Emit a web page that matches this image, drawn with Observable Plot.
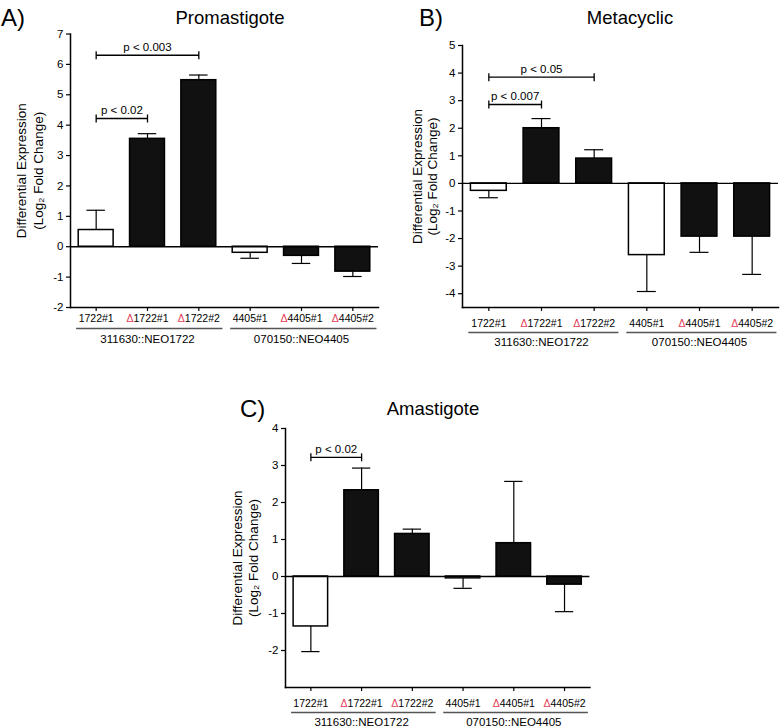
<!DOCTYPE html>
<html><head><meta charset="utf-8">
<script src="https://cdn.jsdelivr.net/npm/d3@7"></script>
<script src="https://cdn.jsdelivr.net/npm/@observablehq/plot@0.6"></script>
<style>
body{margin:0;background:#fff;}
#wrap{position:relative;width:780px;height:728px;font-family:"Liberation Sans",Arial,sans-serif;color:#000;}
.panel{position:absolute;}
.ttl{position:absolute;font-size:18.5px;transform:translate(-50%,-50%);white-space:nowrap;}
.let{position:absolute;font-size:24px;transform:translate(0,-50%);white-space:nowrap;}
</style></head><body><div id="wrap"></div>
<script>
// ---- data ----
const categories = ["1722#1","Δ1722#1","Δ1722#2","4405#1","Δ4405#1","Δ4405#2"];
const knockout = [false,true,true,false,true,true];
const groupNames = ["311630::NEO1722","070150::NEO4405"];
const groupFirst = [0,3];
const groupLast = [2,5];

const promaMean = [0.55,3.55,5.48,-0.2,-0.3,-0.82];
const promaSem  = [0.65,0.17,0.17,0.18,0.25,0.16];
const promaBrFrom = [0,0], promaBrTo = [1,2], promaBrY = [4.22,6.3], promaBrText = ["p < 0.02","p < 0.003"];

const metaMean = [-0.27,2.0,0.9,-2.6,-1.93,-1.93];
const metaSem  = [0.25,0.35,0.32,1.32,0.57,1.37];
const metaBrFrom = [0,0], metaBrTo = [1,2], metaBrY = [2.86,3.85], metaBrText = ["p < 0.007","p < 0.05"];

const amaMean = [-1.35,2.33,1.15,-0.05,0.9,-0.22];
const amaSem  = [0.68,0.6,0.13,0.27,1.67,0.73];
const amaBrFrom = [0], amaBrTo = [1], amaBrY = [3.22], amaBrText = ["p < 0.02"];

const promaTicks = [-2,-1,0,1,2,3,4,5,6,7];
const metaTicks = [-4,-3,-2,-1,0,1,2,3,4,5];
const amaTicks = [-2,-1,0,1,2,3,4];

// ---- drawing ----
const STYLE = "font-family:'Liberation Sans',Arial,sans-serif;font-size:11px;color:#000;background:transparent;overflow:visible;";
const vbar = {draw(ctx, size){ const r = Math.sqrt(size/Math.PI); ctx.moveTo(0,-r); ctx.lineTo(0,r); }};

function panel(o){
  const rows = categories.map((c,i)=>({i, c, v:o.mean[i], e:o.mean[i]+Math.sign(o.mean[i])*o.sem[i], fill: knockout[i]?"#111":"#fff"}));
  const br = o.brFrom.map((a,k)=>({a, b:o.brTo[k], y:o.brY[k], t:o.brText[k]}));
  const ends = br.flatMap(d=>[{x:d.a,y:d.y},{x:d.b,y:d.y}]);
  const groups = groupNames.map((n,k)=>({n, s:groupFirst[k], e:groupLast[k]}));
  const ymin = o.yDomain[0];
  const svg = Plot.plot({
    width:o.width, height:o.height,
    marginLeft:o.ml, marginRight:o.mr, marginTop:o.mt, marginBottom:o.mb,
    style:STYLE,
    x:{domain:[-0.5,5.5], axis:null},
    y:{domain:o.yDomain, axis:null},
    color:{type:"identity"},
    marks:[
      Plot.ruleX(rows,{x:"i", y1:"v", y2:"e", stroke:"#000", strokeWidth:1.2}),
      Plot.ruleY(rows,{x1:d=>d.i-0.18, x2:d=>d.i+0.18, y:"e", stroke:"#000", strokeWidth:1.2}),
      Plot.rectY(rows,{x1:d=>d.i-0.34, x2:d=>d.i+0.34, y1:0, y2:"v", fill:"fill", stroke:"#000", strokeWidth:1.5}),
      Plot.ruleY([0],{stroke:"#000", strokeWidth:1.4}),
      Plot.frame({anchor:"left", stroke:"#000", strokeWidth:1.5}),
      Plot.frame({anchor:"bottom", stroke:"#000", strokeWidth:1.5}),
      Plot.axisY({ticks:o.yTicks, tickSize:4, tickPadding:3, tickFormat:d=>String(d), fontSize:11.5, strokeWidth:1.2}),
      Plot.axisX({ticks:d3.range(categories.length), tickFormat:i=>categories[i], tickSize:4, tickPadding:o.tp, fontSize:10.5, strokeWidth:1.2}),
      Plot.link(br,{x1:"a", x2:"b", y1:"y", y2:"y", stroke:"#000", strokeWidth:1.3}),
      Plot.dot(ends,{x:"x", y:"y", symbol:vbar, r:4, stroke:"#000", strokeWidth:1.3, fill:"none"}),
      Plot.text(br,{x:d=>(d.a+d.b)/2, y:"y", text:"t", dy:-8, fontSize:11.5}),
      Plot.ruleY(groups,{x1:d=>d.s-0.38, x2:d=>d.e+0.47, y:()=>ymin, dy:o.lineGap, stroke:"#555", strokeWidth:1.5}),
      Plot.text(groups,{x:d=>(d.s+d.e)/2, y:()=>ymin, dy:o.groupGap, text:"n", fontSize:11.5}),
      Plot.text(["Differential Expression"],{text:d=>d, frameAnchor:"left", textAnchor:"middle", rotate:-90, dx:o.lab1, fontSize:13.5}),
      Plot.text(["(Log₂ Fold Change)"],{text:d=>d, frameAnchor:"left", textAnchor:"middle", rotate:-90, dx:o.lab2, fontSize:13.5})
    ]
  });
  d3.select(svg).selectAll('[aria-label="x-axis tick label"] text').each(function(){
    const t = this.textContent;
    if (t.startsWith("Δ")) {
      this.textContent = "";
      d3.select(this).append("tspan").attr("fill","#e4405a").text("Δ");
      d3.select(this).append("tspan").text(t.slice(1));
    }
  });
  svg.classList.add("panel");
  svg.style.position = "absolute";
  svg.style.left = o.left+"px"; svg.style.top = o.top+"px";
  return svg;
}

const wrap = document.getElementById("wrap");
wrap.appendChild(panel({mean:promaMean, sem:promaSem, brFrom:promaBrFrom, brTo:promaBrTo, brY:promaBrY, brText:promaBrText,
  yDomain:[-2,7], yTicks:promaTicks, width:390, height:350, ml:70, mr:12, mt:33.5, mb:43, tp:3, lineGap:21, groupGap:32, lab1:-49, lab2:-32, left:0, top:0}));
wrap.appendChild(panel({mean:metaMean, sem:metaSem, brFrom:metaBrFrom, brTo:metaBrTo, brY:metaBrY, brText:metaBrText,
  yDomain:[-4.5,5], yTicks:metaTicks, width:390, height:360, ml:72, mr:2, mt:45, mb:53, tp:8, lineGap:25, groupGap:35, lab1:-45, lab2:-30, left:390, top:0}));
wrap.appendChild(panel({mean:amaMean, sem:amaSem, brFrom:amaBrFrom, brTo:amaBrTo, brY:amaBrY, brText:amaBrText,
  yDomain:[-3,4], yTicks:amaTicks, width:410, height:368, ml:95, mr:10.6, mt:68, mb:41, tp:8, lineGap:25, groupGap:35, lab1:-48, lab2:-32, left:190, top:360}));

const labels = [
  {cls:"let", t:"A)", x:1, y:18},
  {cls:"ttl", t:"Promastigote", x:230, y:18},
  {cls:"let", t:"B)", x:419, y:18},
  {cls:"ttl", t:"Metacyclic", x:630, y:18},
  {cls:"let", t:"C)", x:240, y:409},
  {cls:"ttl", t:"Amastigote", x:433, y:409}
];
for (const l of labels){
  const d = document.createElement("div");
  d.className = l.cls; d.textContent = l.t;
  d.style.left = l.x+"px"; d.style.top = l.y+"px";
  wrap.appendChild(d);
}
</script></body></html>
